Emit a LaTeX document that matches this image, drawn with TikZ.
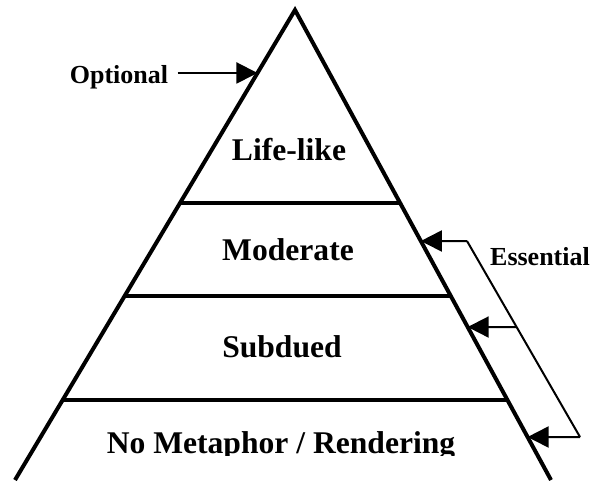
\documentclass[tikz,border=0pt]{standalone}
\usepackage{fontspec}
\setmainfont{Liberation Serif}
\usetikzlibrary{arrows.meta,calc,positioning}

\begin{document}
\begin{tikzpicture}[x=0.5pt, y=-0.5pt,
    side/.style={line width=2pt},
    level/.style={line width=1.8pt},
    bracket/.style={line width=1pt},
    pointer/.style={line width=1pt, -{Triangle[length=10.5pt,width=10.5pt]}},
    tier/.style={font=\fontsize{15.8}{18}\bfseries, anchor=base, inner sep=0pt},
    tag/.style={font=\fontsize{13}{15}\bfseries, anchor=base, inner sep=0pt}]
    \useasboundingbox (0,0) rectangle (597,482);

    % Define corners of the pyramid
    \coordinate (apex) at (295,10);
    \coordinate (BL) at (15,480);
    \coordinate (BR) at (551,480);

    % Level lines
    \coordinate (L1) at ($(apex)!0.4106!(BL)$);
    \coordinate (R1) at ($(apex)!0.4106!(BR)$);
    \coordinate (L2) at ($(apex)!0.6085!(BL)$);
    \coordinate (R2) at ($(apex)!0.6085!(BR)$);
    \coordinate (L3) at ($(apex)!0.8298!(BL)$);
    \coordinate (R3) at ($(apex)!0.8298!(BR)$);

    % Sides and levels
    \draw[side] (BL) -- (apex) -- (BR);
    \draw[level] (L1) -- (R1);
    \draw[level] (L2) -- (R2);
    \draw[level] (L3) -- (R3);

    % Tier labels
    \node[tier] (lifelike) at (289,160) {Life-like};
    \node[tier] (moderate) at (288,260) {Moderate};
    \node[tier] (subdued) at (282,357) {Subdued};
    \begin{scope}
        \clip (0,0) rectangle (597,455);
        \node[tier] (none) at (281,453) {No Metaphor / Rendering};
    \end{scope}

    % Optional pointer
    \node[tag] (optional) at (119,83) {Optional};
    \coordinate (optTip) at ($(apex)!0.134!(BL)$);
    \draw[pointer] (optional.east |- optTip) ++(9,0) coordinate (optStart) -- (optTip);

    % Essential bracket
    \node[tag] (essential) at (540,265) {Essential};
    \coordinate (essTipA) at ($(apex)!0.4915!(BR)$);
    \coordinate (essTipB) at ($(apex)!0.6745!(BR)$);
    \coordinate (essTipC) at ($(apex)!0.9085!(BR)$);
    \coordinate (essTop) at (467,241);
    \coordinate (essBot) at (580,437);
    \coordinate (essMid) at ($(essTop)!0.4388!(essBot)$);
    \draw[bracket] (essTop) -- (essBot);
    \draw[pointer] (essTop) -- (essTipA);
    \draw[pointer] (essMid) -- (essTipB);
    \draw[pointer] (essBot) -- (essTipC);
\end{tikzpicture}
\end{document}
